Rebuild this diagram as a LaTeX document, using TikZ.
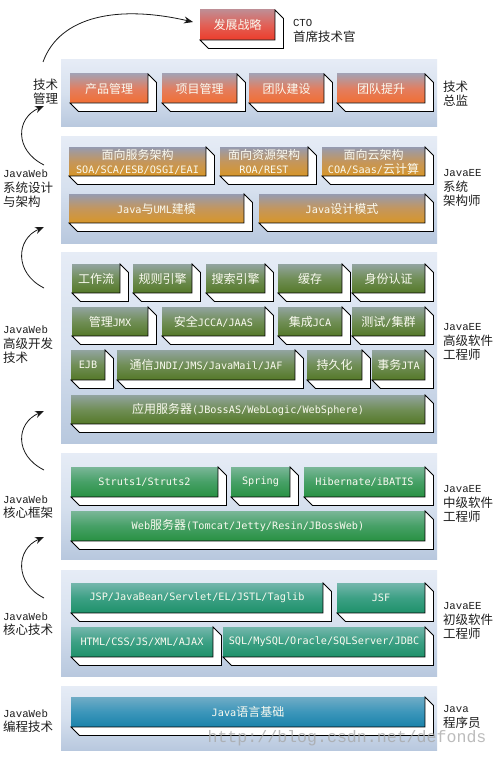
\documentclass[tikz,border=0pt]{standalone}
\usepackage{fontspec}
\usetikzlibrary{arrows.meta}
\newfontfamily\zh{Noto Sans CJK SC}
\newfontfamily\bxmono{DejaVu Sans Mono}
\newfontfamily\lbmono{Liberation Mono}
\newcommand\z[1]{{\zh\fontsize{12}{14}\selectfont #1}}
\newcommand\lat[1]{{\lbmono\fontsize{10.7}{14.5}\selectfont #1}}
\def\dep{8.5}
\definecolor{pnltop}{RGB}{230,236,246}
\definecolor{pnlmid}{RGB}{214,224,238}
\definecolor{pnlbot}{RGB}{184,200,222}
\definecolor{redT}{RGB}{192,140,146}\definecolor{redM}{RGB}{226,96,86}\definecolor{redB}{RGB}{236,60,42}
\definecolor{orT}{RGB}{166,160,176}\definecolor{orM}{RGB}{226,126,96}\definecolor{orB}{RGB}{242,110,50}
\definecolor{goT}{RGB}{150,155,176}\definecolor{goM}{RGB}{196,150,92}\definecolor{goB}{RGB}{216,150,40}
\definecolor{olT}{RGB}{146,164,160}\definecolor{olM}{RGB}{112,142,86}\definecolor{olB}{RGB}{84,120,40}
\definecolor{grT}{RGB}{122,182,152}\definecolor{grM}{RGB}{70,160,102}\definecolor{grB}{RGB}{40,145,66}
\definecolor{teT}{RGB}{116,182,172}\definecolor{teM}{RGB}{60,160,132}\definecolor{teB}{RGB}{30,145,106}
\definecolor{blT}{RGB}{112,172,198}\definecolor{blM}{RGB}{60,150,186}\definecolor{blB}{RGB}{26,130,170}
\definecolor{facetext}{RGB}{250,250,240}
\tikzset{
  panel/.style={draw=none, top color=pnltop, bottom color=pnlbot, middle color=pnlmid,
    inner sep=0pt, outer sep=0pt, anchor=north west},
  face/.style={inner sep=0pt, outer sep=0pt, anchor=north west, text=facetext, align=center,
    font=\bxmono\fontsize{10.2}{14}\selectfont},
  facecol/.style n args={3}{top color=#1, bottom color=#3, middle color=#2},
  fcRed/.style={facecol={redT}{redM}{redB}},
  fcOrange/.style={facecol={orT}{orM}{orB}},
  fcGold/.style={facecol={goT}{goM}{goB}},
  fcOlive/.style={facecol={olT}{olM}{olB}},
  fcGreen/.style={facecol={grT}{grM}{grB}},
  fcTeal/.style={facecol={teT}{teM}{teB}},
  fcBlue/.style={facecol={blT}{blM}{blB}},
  ext/.style={draw=black, fill=white, line width=0.8pt, line join=miter},
  lbl/.style={inner sep=0pt, outer sep=0pt, align=left, text=black!88,
    font=\zh\fontsize{12.5}{14.5}\selectfont},
  arr/.style={draw=black!90, line width=0.8pt, -{Stealth[length=9pt,width=7pt]}},
  wm/.style={inner sep=0pt, text=black!35, opacity=0.75, font=\lbmono\fontsize{16.6}{18}\selectfont}
}
% name x1 y1 x2 y2 style text
\newcommand\bx[7]{%
  \node[face,#6,minimum width={(#4-#2)*1pt},minimum height={(#5-#3)*1pt}] (#1) at (#2,#3) {#7};
  \draw[ext] (#1.north east) -- ([shift={(\dep,\dep)}]#1.north east)
    -- ([shift={(\dep,\dep)}]#1.south east) -- ([shift={(\dep,\dep)}]#1.south west)
    -- (#1.south west) -- (#1.south east) -- cycle;
}
% name x1 y1 x2 y2
\newcommand\pnl[5]{%
  \node[panel,minimum width={(#4-#2)*1pt},minimum height={(#5-#3)*1pt}] (#1) at (#2,#3) {};
}
\begin{document}
\begin{tikzpicture}[x=1pt,y=-1pt]
\useasboundingbox (0,0) rectangle (499,757);
\fill[white] (0,0) rectangle (499,757);

% panels
\pnl{p1}{61}{60}{437}{127}
\pnl{p2}{61}{136}{437}{243}
\pnl{p3}{61}{252}{437}{443}
\pnl{p4}{61}{453}{437}{559}
\pnl{p5}{61}{570}{437}{676}
\pnl{p6}{61}{686}{437}{750}

% CTO
\bx{cto}{200}{10}{275}{40}{fcRed}{\z{发展战略}}

% technical director
\bx{b11}{70}{74}{148}{103}{fcOrange}{\z{产品管理}}
\bx{b12}{162}{74}{237}{103}{fcOrange}{\z{项目管理}}
\bx{b13}{249}{74}{324}{103}{fcOrange}{\z{团队建设}}
\bx{b14}{337}{74}{425}{103}{fcOrange}{\z{团队提升}}

% architect
\bx{b21}{69}{147}{206}{176}{fcGold}{\z{面向服务架构}\\SOA/SCA/ESB/OSGI/EAI}
\bx{b22}{220}{147}{308}{176}{fcGold}{\z{面向资源架构}\\ROA/REST}
\bx{b23}{322}{147}{425}{176}{fcGold}{\z{面向云架构}\\COA/Saas/\z{云计算}}
\bx{b24}{69}{194}{244}{223}{fcGold}{Java\z{与}UML\z{建模}}
\bx{b25}{259}{194}{425}{223}{fcGold}{Java\z{设计模式}}

% senior
\bx{b31}{72}{264}{120}{293}{fcOlive}{\z{工作流}}
\bx{b32}{133}{264}{192}{293}{fcOlive}{\z{规则引擎}}
\bx{b33}{206}{264}{265}{293}{fcOlive}{\z{搜索引擎}}
\bx{b34}{278}{264}{342}{293}{fcOlive}{\z{缓存}}
\bx{b35}{352}{264}{425}{293}{fcOlive}{\z{身份认证}}
\bx{b36}{72}{307}{148}{336}{fcOlive}{\z{管理}JMX}
\bx{b37}{162}{307}{265}{336}{fcOlive}{\z{安全}JCCA/JAAS}
\bx{b38}{278}{307}{342}{336}{fcOlive}{\z{集成}JCA}
\bx{b39}{352}{307}{425}{336}{fcOlive}{\z{测试}/\z{集群}}
\bx{b3a}{71}{350}{105}{380}{fcOlive}{EJB}
\bx{b3b}{117}{350}{295}{380}{fcOlive}{\z{通信}JNDI/JMS/JavaMail/JAF}
\bx{b3c}{307}{350}{362}{380}{fcOlive}{\z{持久化}}
\bx{b3d}{372}{350}{425}{380}{fcOlive}{\z{事务}JTA}
\bx{b3e}{71}{395}{425}{424}{fcOlive}{\z{应用服务器}(JBossAS/WebLogic/WebSphere)}

% middle
\bx{b41}{71}{467}{218}{497}{fcGreen}{Struts1/Struts2}
\bx{b42}{231}{467}{290}{497}{fcGreen}{Spring}
\bx{b43}{304}{467}{425}{497}{fcGreen}{Hibernate/iBATIS}
\bx{b44}{71}{511}{425}{541}{fcGreen}{Web\z{服务器}(Tomcat/Jetty/Resin/JBossWeb)}

% junior
\bx{b51}{71}{583}{323}{613}{fcTeal}{JSP/JavaBean/Servlet/EL/JSTL/Taglib}
\bx{b52}{337}{583}{425}{613}{fcTeal}{JSF}
\bx{b53}{71}{627}{213}{657}{fcTeal}{HTML/CSS/JS/XML/AJAX}
\bx{b54}{223}{627}{425}{657}{fcTeal}{SQL/MySQL/Oracle/SQLServer/JDBC}

% programmer
\bx{b61}{71}{697}{425}{727}{fcBlue}{Java\z{语言基础}}

% right labels
\node[lbl,anchor=west] (r0) at (293,31) {\lat{CTO}\\首席技术官};
\node[lbl,anchor=west] (r1) at (443,93.5) {技术\\总监};
\node[lbl,anchor=west] (r2) at (443,188) {\lat{JavaEE}\\系统\\架构师};
\node[lbl,anchor=west] (r3) at (443,342) {\lat{JavaEE}\\高级软件\\工程师};
\node[lbl,anchor=west] (r4) at (443,504) {\lat{JavaEE}\\中级软件\\工程师};
\node[lbl,anchor=west] (r5) at (443,621) {\lat{JavaEE}\\初级软件\\工程师};
\node[lbl,anchor=west] (r6) at (443,717) {\lat{Java}\\程序员};

% left labels
\node[lbl,anchor=west] (l1) at (33,92) {技术\\管理};
\node[lbl,anchor=west] (l2) at (3,189) {\lat{JavaWeb}\\系统设计\\与架构};
\node[lbl,anchor=west] (l3) at (3,345) {\lat{JavaWeb}\\高级开发\\技术};
\node[lbl,anchor=west] (l4) at (3,507) {\lat{JavaWeb}\\核心框架};
\node[lbl,anchor=west] (l5) at (3,624) {\lat{JavaWeb}\\核心技术};
\node[lbl,anchor=west] (l6) at (3,721) {\lat{JavaWeb}\\编程技术};

% arrows
\coordinate (a1t) at (43,62);  \coordinate (a1h) at (193,22);
\draw[arr] (a1t) .. controls (60,15) and (120,5) .. (a1h);
\coordinate (a2t) at (44,165); \coordinate (a2h) at (44,106);
\draw[arr] (a2t) .. controls (14,150) and (16,118) .. (a2h);
\coordinate (a3t) at (44,288); \coordinate (a3h) at (44,227);
\draw[arr] (a3t) .. controls (14,273) and (16,239) .. (a3h);
\coordinate (a4t) at (44,470); \coordinate (a4h) at (44,411);
\draw[arr] (a4t) .. controls (14,455) and (16,423) .. (a4h);
\coordinate (a5t) at (44,598); \coordinate (a5h) at (44,537);
\draw[arr] (a5t) .. controls (14,583) and (16,549) .. (a5h);

% watermark
\node[wm] (wm) at (347,738) {http://blog.csdn.net/defonds};
\end{tikzpicture}
\end{document}
